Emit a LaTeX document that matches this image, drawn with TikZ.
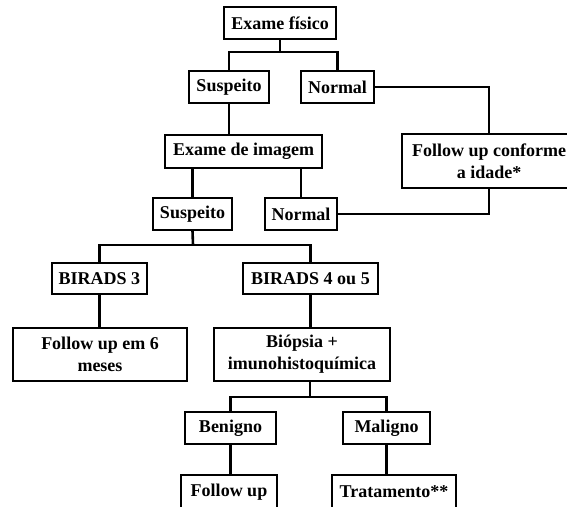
\documentclass[tikz,border=0pt]{standalone}
\usepackage{fontspec}
\setmainfont{Liberation Serif}
\begin{document}
\begin{tikzpicture}[x=1pt,y=-1pt,
  box/.style={draw, line width=1.3pt, inner sep=0pt, minimum height=32pt, align=center,
    font=\fontsize{18}{22}\selectfont\bfseries},
  conn/.style={line width=2.6pt}]
\useasboundingbox (0,0) rectangle (567,506);
\fill[white] (0,0) rectangle (567,506);
\clip (0,0) rectangle (567,506);
\node[box, minimum width=112pt] (ef) at (280,23) {Exame físico};
\node[box, minimum width=80pt] (s1) at (229,87) {Suspeito};
\node[box, minimum width=73pt] (n1) at (337.5,87) {Normal};
\node[box, minimum width=157pt, minimum height=33pt] (ei) at (243.5,151.5) {Exame de imagem};
\node[box, minimum width=174pt, minimum height=54pt] (fc) at (489,161) {Follow up conforme\\a idade*};
\node[box, minimum width=79pt] (s2) at (192.5,214) {Suspeito};
\node[box, minimum width=72pt] (n2) at (301,214) {Normal};
\node[box, minimum width=95pt, minimum height=31pt] (b3) at (99.5,278.5) {BIRADS 3};
\node[box, minimum width=135pt, minimum height=31pt] (b45) at (310.5,278.5) {BIRADS 4 ou 5};
\node[box, minimum width=174pt, minimum height=53pt] (fu6) at (100,354.5) {Follow up em 6\\meses};
\node[box, minimum width=176pt, minimum height=53pt] (bio) at (302,354.5) {Biópsia +\\imunohistoquímica};
\node[box, minimum width=91pt] (ben) at (230.5,428) {Benigno};
\node[box, minimum width=87pt] (mal) at (386.5,428) {Maligno};
\node[box, minimum width=96pt, minimum height=34pt] (fu) at (229,492) {Follow up};
\node[box, minimum width=124pt, minimum height=34pt] (tr) at (394,492) {Tratamento**};
\coordinate (j1) at (280,52);
\coordinate (j2) at (193,245);
\coordinate (j3) at (310,397);
\draw[conn] (ef.south) -- (j1);
\draw[conn] (s1.north) |- (j1) -| (n1.north);
\draw[conn] (n1.east) -| (fc.north);
\draw[conn] (s1.south) -- (s1.south |- ei.north);
\draw[conn] (ei.south -| s2.north) -- (s2.north);
\draw[conn] (ei.south -| n2.north) -- (n2.north);
\draw[conn] (fc.south) |- (n2.east);
\draw[conn] (s2.south) -- (j2);
\draw[conn] (b3.north) |- (j2) -| (b45.north);
\draw[conn] (b3.south) -- (b3.south |- fu6.north);
\draw[conn] (b45.south) -- (b45.south |- bio.north);
\draw[conn] (bio.south -| j3) -- (j3);
\draw[conn] (ben.north) |- (j3) -| (mal.north);
\draw[conn] (ben.south) -- (ben.south |- fu.north);
\draw[conn] (mal.south) -- (mal.south |- tr.north);
\end{tikzpicture}
\end{document}
